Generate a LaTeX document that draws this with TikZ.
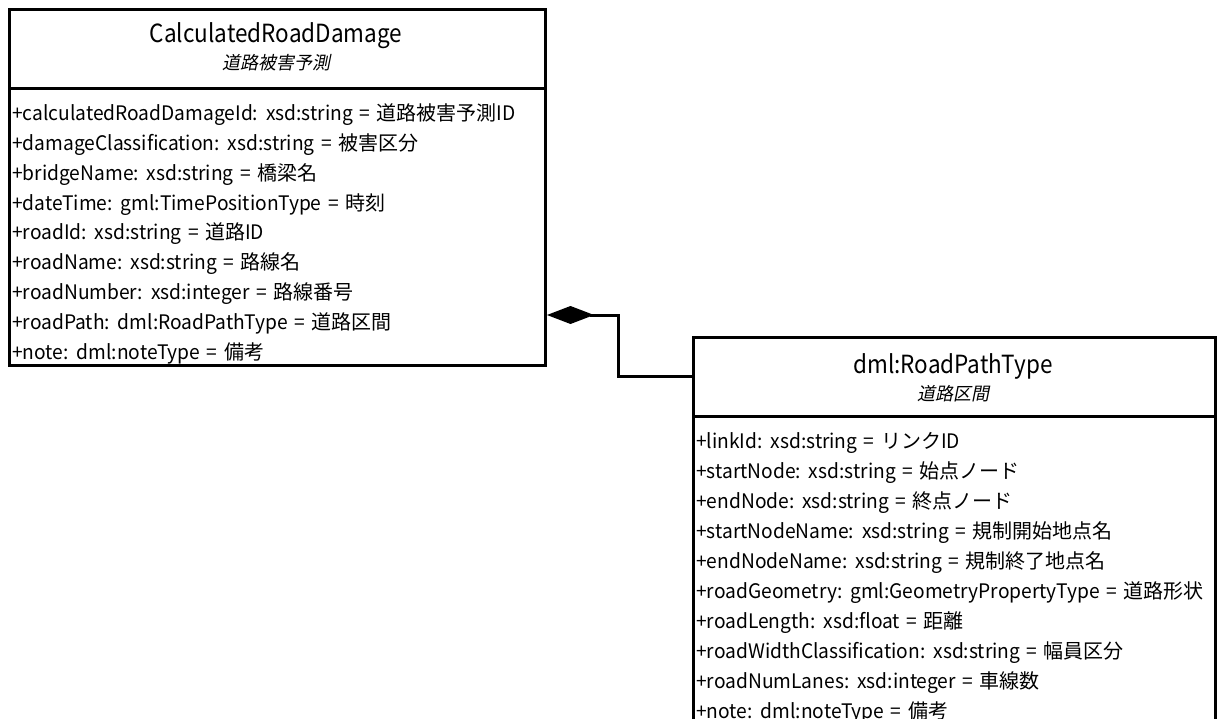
\documentclass[tikz,border=0pt]{standalone}
\usepackage{fontspec}
\usetikzlibrary{arrows.meta}
\setmainfont{Noto Sans CJK JP}[FakeStretch=0.96,WordSpace=1.5]
\newfontfamily\titlef{Noto Sans CJK JP}[FakeStretch=0.9]
\newfontfamily\jpf{Noto Sans CJK JP}
\newfontfamily\jpi{Noto Sans CJK JP}[FakeSlant=0.2]
\newcommand\J[1]{{\jpf #1}}
\tikzset{
  box/.style={draw, line width=3pt, inner sep=0pt, anchor=north west},
  attr/.style={anchor=base west, inner sep=0pt, font=\fontsize{20}{24}\selectfont},
  ttl/.style={anchor=base, inner sep=0pt, font=\fontsize{25}{30}\titlef},
  sub/.style={anchor=base, inner sep=0pt, font=\fontsize{18}{22}\jpi},
  conn/.style={line width=3pt},
}
\begin{document}
\begin{tikzpicture}[x=1pt,y=-1pt]
\useasboundingbox (0,0) rectangle (1217,719);
% class 1
\node[box, minimum width=536pt, minimum height=79pt] (h1) at (8,8) {};
\node[box, minimum width=536pt, minimum height=277pt] (b1) at (8,87) {};
\node[ttl] (t1) at (276,43) {CalculatedRoadDamage};
\node[sub] (s1) at (276,70) {道路被害予測};
\node[attr] (a11) at (12,121) {+calculatedRoadDamageId: xsd:string = \J{道路被害予測}ID};
\node[attr] (a12) at (12,150.75) {+damageClassification: xsd:string = \J{被害区分}};
\node[attr] (a13) at (12,180.5) {+bridgeName: xsd:string = \J{橋梁名}};
\node[attr] (a14) at (12,210.25) {+dateTime: gml:TimePositionType = \J{時刻}};
\node[attr] (a15) at (12,240) {+roadId: xsd:string = \J{道路}ID};
\node[attr] (a16) at (12,269.75) {+roadName: xsd:string = \J{路線名}};
\node[attr] (a17) at (12,299.5) {+roadNumber: xsd:integer = \J{路線番号}};
\node[attr] (a18) at (12,329.25) {+roadPath: dml:RoadPathType = \J{道路区間}};
\node[attr] (a19) at (12,359) {+note: dml:noteType = \J{備考}};
% class 2
\node[box, minimum width=522pt, minimum height=79pt] (h2) at (692,336) {};
\node[box, minimum width=522pt, minimum height=330pt] (b2) at (692,415) {};
\node[ttl] (t2) at (953,373) {dml:RoadPathType};
\node[sub] (s2) at (953,400) {道路区間};
\node[attr] (a21) at (696,448) {+linkId: xsd:string = \J{リンク}ID};
\node[attr] (a22) at (696,478) {+startNode: xsd:string = \J{始点ノード}};
\node[attr] (a23) at (696,508) {+endNode: xsd:string = \J{終点ノード}};
\node[attr] (a24) at (696,538) {+startNodeName: xsd:string = \J{規制開始地点名}};
\node[attr] (a25) at (696,568) {+endNodeName: xsd:string = \J{規制終了地点名}};
\node[attr] (a26) at (696,598) {+roadGeometry: gml:GeometryPropertyType = \J{道路形状}};
\node[attr] (a27) at (696,628) {+roadLength: xsd:float = \J{距離}};
\node[attr] (a28) at (696,658) {+roadWidthClassification: xsd:string = \J{幅員区分}};
\node[attr] (a29) at (696,688) {+roadNumLanes: xsd:integer = \J{車線数}};
\node[attr] (a210) at (696,718) {+note: dml:noteType = \J{備考}};
% composition
\coordinate (d) at (b1.east |- 0,315);
\coordinate (e) at (b2.west |- 0,376);
\draw[conn, {Diamond[length=47pt,width=18pt]}-] (d) -- (618,315) |- (e);
\end{tikzpicture}
\end{document}
